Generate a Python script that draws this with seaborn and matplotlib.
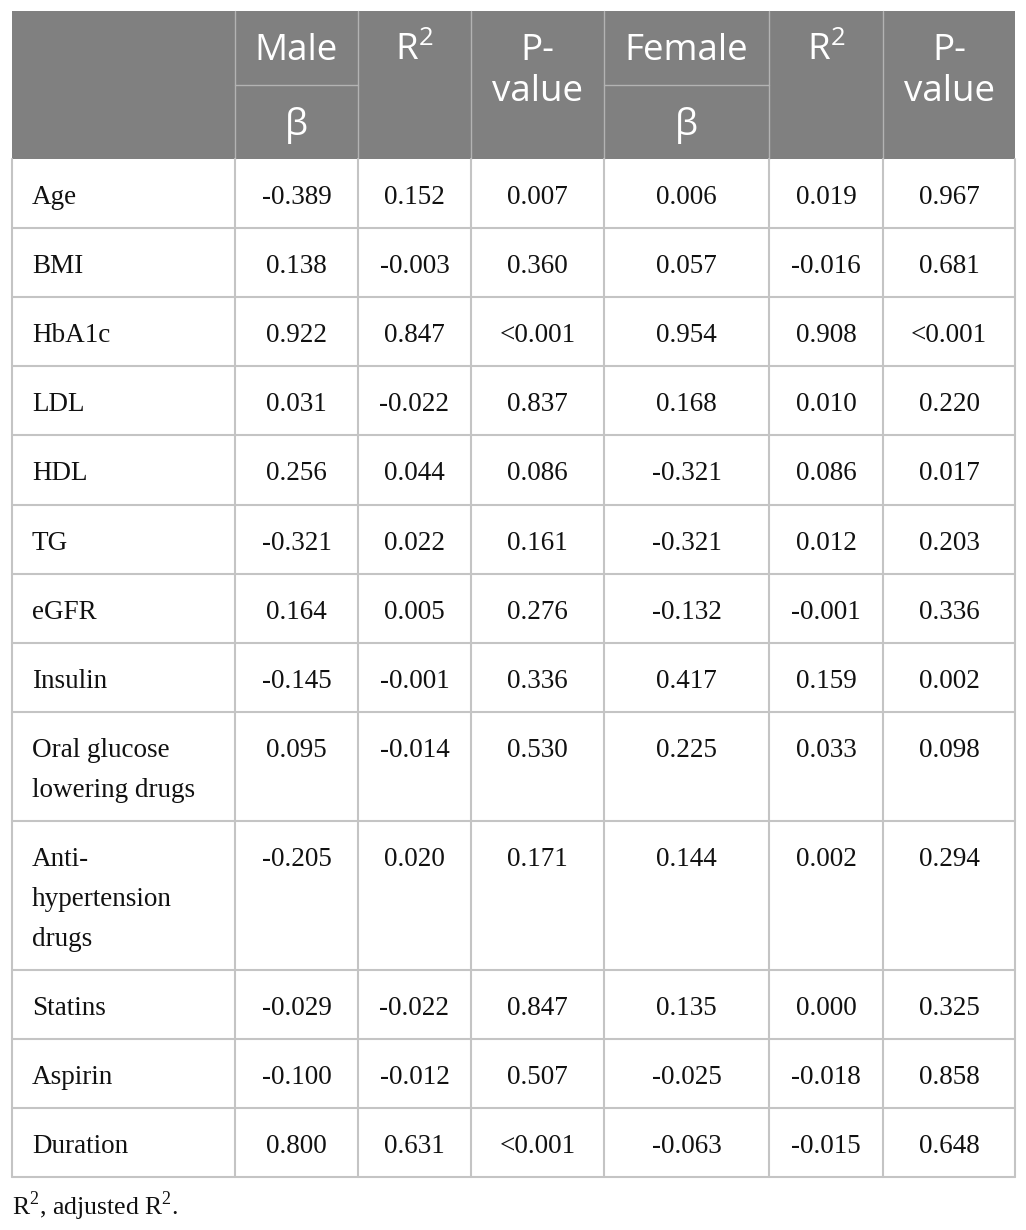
import matplotlib.pyplot as plt
import seaborn as sns

variables = ["Age", "BMI", "HbA1c", "LDL", "HDL", "TG", "eGFR", "Insulin",
             "Oral glucose\nlowering drugs", "Anti-\nhypertension\ndrugs",
             "Statins", "Aspirin", "Duration"]
male_beta = ["-0.389", "0.138", "0.922", "0.031", "0.256", "-0.321", "0.164",
             "-0.145", "0.095", "-0.205", "-0.029", "-0.100", "0.800"]
male_r2 = ["0.152", "-0.003", "0.847", "-0.022", "0.044", "0.022", "0.005",
           "-0.001", "-0.014", "0.020", "-0.022", "-0.012", "0.631"]
male_p = ["0.007", "0.360", "<0.001", "0.837", "0.086", "0.161", "0.276",
          "0.336", "0.530", "0.171", "0.847", "0.507", "<0.001"]
female_beta = ["0.006", "0.057", "0.954", "0.168", "-0.321", "-0.321", "-0.132",
               "0.417", "0.225", "0.144", "0.135", "-0.025", "-0.063"]
female_r2 = ["0.019", "-0.016", "0.908", "0.010", "0.086", "0.012", "-0.001",
             "0.159", "0.033", "0.002", "0.000", "-0.018", "-0.015"]
female_p = ["0.967", "0.681", "<0.001", "0.220", "0.017", "0.203", "0.336",
            "0.002", "0.098", "0.294", "0.325", "0.858", "0.648"]
header_top = ["Male", r"R$^{\mathregular{2}}$", "P-\nvalue",
              "Female", r"R$^{\mathregular{2}}$", "P-\nvalue"]
header_sub = ["\u03b2", None, None, "\u03b2", None, None]
footnote = r"R$^{\mathregular{2}}$, adjusted R$^{\mathregular{2}}$."

sns.set_theme(style="white")
plt.rcParams["font.family"] = ["Liberation Serif", "DejaVu Serif"]

# layout in pixels
col_x = [12, 235, 358, 471, 604, 769, 883, 1015]
head_top, head_mid, head_bot = 11, 85, 159
row_h, line_h = 69.1, 40
hdr_bg = "#808080"
hdr_line = "#b3b3b3"
grid = "#c4c4c4"
txt = "#111111"

fig = plt.figure(figsize=(10.26, 12.30), dpi=100)
ax = fig.add_axes([0, 0, 1, 1])
ax.set_xlim(0, 1026)
ax.set_ylim(1230, 0)
ax.axis("off")

# header
ax.add_patch(plt.Rectangle((col_x[0], head_top), col_x[-1] - col_x[0],
                           head_bot - head_top, color=hdr_bg, lw=0))
for x in col_x[1:-1]:
    ax.plot([x, x], [head_top, head_bot], color=hdr_line, lw=1)
for i, sub in enumerate(header_sub):
    if sub is not None:
        ax.plot([col_x[i + 1], col_x[i + 2]], [head_mid, head_mid], color=hdr_line, lw=1)
hfont = dict(family=["Open Sans", "DejaVu Sans"], size=26.5, color="white",
             ha="center", va="center")
for i, lab in enumerate(header_top):
    cx = (col_x[i + 1] + col_x[i + 2]) / 2
    for j, part in enumerate(lab.split("\n")):
        ax.text(cx, 51 + j * 41, part, **hfont)
    if header_sub[i] is not None:
        ax.text(cx, 126, header_sub[i], **hfont)

# body
columns = [male_beta, male_r2, male_p, female_beta, female_r2, female_p]
y = head_bot
bfont = dict(size=19.5, color=txt, va="center")
for r, var in enumerate(variables):
    lines = var.split("\n")
    h = row_h + line_h * (len(lines) - 1)
    for j, part in enumerate(lines):
        ax.text(col_x[0] + 20, y + 38.5 + j * line_h, part, ha="left", **bfont)
    for c, col in enumerate(columns):
        cx = (col_x[c + 1] + col_x[c + 2]) / 2
        ax.text(cx, y + 38.5, col[r], ha="center", **bfont)
    y += h
    ax.plot([col_x[0], col_x[-1]], [y, y], color=grid, lw=1.5)
body_bot = y
for x in col_x:
    ax.plot([x, x], [head_bot, body_bot], color=grid, lw=1.5)

ax.text(col_x[0], 1206, footnote, size=18.5, color=txt, ha="left", va="center")

fig.savefig("out.png", dpi=100, facecolor="white")
